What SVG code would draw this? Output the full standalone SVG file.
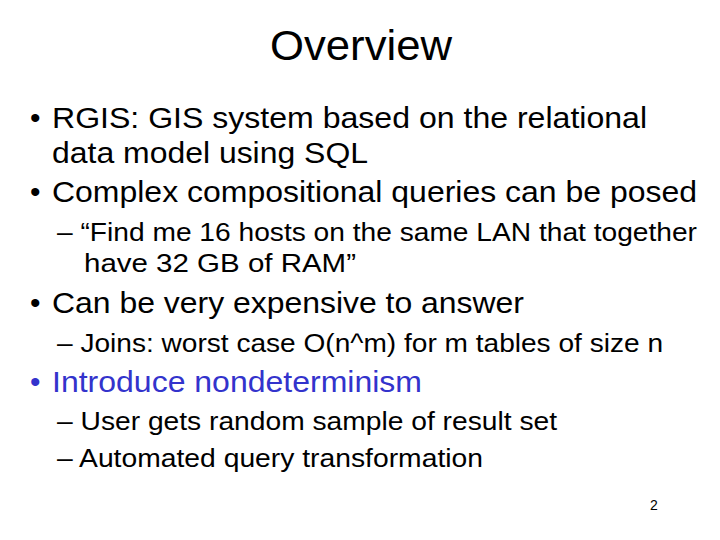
<svg xmlns="http://www.w3.org/2000/svg" width="720" height="540" viewBox="0 0 720 540">
<style>
text{font-family:"Liberation Sans",Arial,sans-serif;fill:#000}
.b{font-size:30px}
.s{font-size:25px}
.blue{fill:#3333cc}
</style>
<rect width="720" height="540" fill="#fff"/>
<text x="270" y="60" font-size="42" textLength="182" lengthAdjust="spacingAndGlyphs">Overview</text>
<text class="b" x="30" y="128">•</text>
<text class="b" x="52" y="128" textLength="595" lengthAdjust="spacingAndGlyphs">RGIS: GIS system based on the relational</text>
<text class="b" x="52" y="163" textLength="316" lengthAdjust="spacingAndGlyphs">data model using SQL</text>
<text class="b" x="30" y="202">•</text>
<text class="b" x="52" y="202" textLength="645" lengthAdjust="spacingAndGlyphs">Complex compositional queries can be posed</text>
<text class="s" x="57" y="241" textLength="640" lengthAdjust="spacingAndGlyphs">– “Find me 16 hosts on the same LAN that together</text>
<text class="s" x="84" y="272" textLength="272" lengthAdjust="spacingAndGlyphs">have 32 GB of RAM”</text>
<text class="b" x="30" y="313">•</text>
<text class="b" x="52" y="313" textLength="472" lengthAdjust="spacingAndGlyphs">Can be very expensive to answer</text>
<text class="s" x="57" y="352" textLength="606" lengthAdjust="spacingAndGlyphs">– Joins: worst case O(n^m) for m tables of size n</text>
<text class="b blue" x="30" y="392">•</text>
<text class="b blue" x="52" y="392" textLength="370" lengthAdjust="spacingAndGlyphs">Introduce nondeterminism</text>
<text class="s" x="57" y="430" textLength="500" lengthAdjust="spacingAndGlyphs">– User gets random sample of result set</text>
<text class="s" x="57" y="467" textLength="426" lengthAdjust="spacingAndGlyphs">– Automated query transformation</text>
<text x="650" y="510" font-size="14">2</text>
</svg>
